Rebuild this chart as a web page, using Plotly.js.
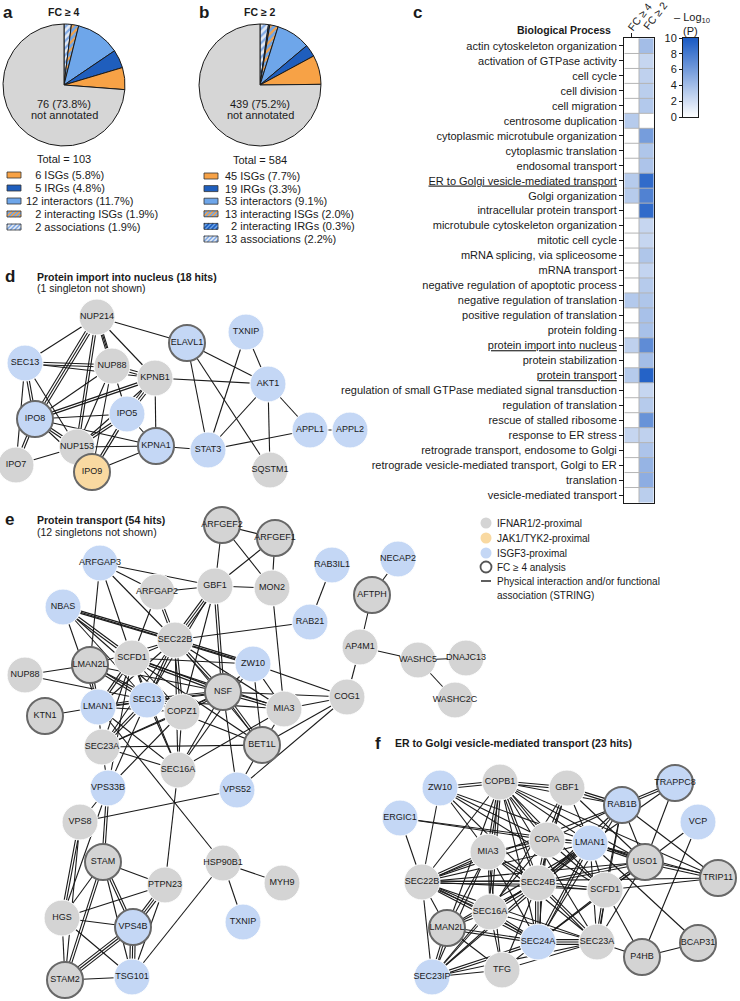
<!DOCTYPE html>
<html><head><meta charset="utf-8">
<script src="https://cdn.plot.ly/plotly-3.0.1.min.js"></script>
<style>html,body{margin:0;padding:0;background:#fff}#chart{width:740px;height:1001px}</style>
</head><body><div id="chart"></div>
<script>
// ---------------- DATA ----------------
const pieALabels = ['associations','interacting ISGs','interactors','IRGs','ISGs','not annotated'];
const pieAValues = [2, 2, 12, 5, 6, 76];
const pieBLabels = ['associations','interacting IRGs','interacting ISGs','interactors','IRGs','ISGs','not annotated'];
const pieBValues = [13, 2, 13, 53, 19, 45, 439];
const pieATitle = 'FC ≥ 4', pieBTitle = 'FC ≥ 2';
const pieACenter = ['76 (73.8%)', 'not annotated'];
const pieBCenter = ['439 (75.2%)', 'not annotated'];
const pieATotal = 'Total = 103', pieBTotal = 'Total = 584';
const legendACats = ['ISGs','IRGs','interactors','interacting ISGs','associations'];
const legendATexts = ['\u00a0\u00a0\u00a06 ISGs (5.8%)','\u00a0\u00a0\u00a05 IRGs (4.8%)','12 interactors (11.7%)','\u00a0\u00a0\u00a02 interacting ISGs (1.9%)','\u00a0\u00a0\u00a02 associations (1.9%)'];
const legendBCats = ['ISGs','IRGs','interactors','interacting ISGs','interacting IRGs','associations'];
const legendBTexts = ['45 ISGs (7.7%)','19 IRGs (3.3%)','53 interactors (9.1%)','13 interacting ISGs (2.0%)','\u00a0\u00a02 interacting IRGs (0.3%)','13 associations (2.2%)'];

const processes = ['actin cytoskeleton organization','activation of GTPase activity','cell cycle','cell division','cell migration','centrosome duplication','cytoplasmic microtubule organization','cytoplasmic translation','endosomal transport','ER to Golgi vesicle-mediated transport','Golgi organization','intracellular protein transport','microtubule cytoskeleton organization','mitotic cell cycle','mRNA splicing, via spliceosome','mRNA transport','negative regulation of apoptotic process','negative regulation of translation','positive regulation of translation','protein folding','protein import into nucleus','protein stabilization','protein transport','regulation of small GTPase mediated signal transduction','regulation of translation','rescue of stalled ribosome','response to ER stress','retrograde transport, endosome to Golgi','retrograde vesicle-mediated transport, Golgi to ER','translation','vesicle-mediated transport'];
const underlined = ['ER to Golgi vesicle-mediated transport','protein import into nucleus','protein transport'];
const heatCols = ['FC ≥ 4','FC ≥ 2'];
const fc4Vals = [0,0,0,0,0,3.2,0,0,0,3.2,3.2,0,0,0,0,0,0,3.3,0,0,2.8,0,3.2,0,0,0,2.5,0,0,0,0];
const fc2Vals = [4,2.5,2.8,3,3.3,0,6,3.5,3.6,9,7.6,9,2.5,2.5,3.5,2.6,3.2,3.5,3.8,3.8,7,4,9.5,2.5,3.2,6.6,2.8,3.6,4.6,5,3];
const scaleTicks = [0,2,4,6,8,10];
const scaleTitle = ['– Log<sub>10</sub>','(P)'];
const heatTitle = 'Biological Process';

const dTitle = ['Protein import into nucleus (18 hits)','(1 singleton not shown)'];
const dNames = ['NUP214','ELAVL1','TXNIP','SEC13','NUP88','KPNB1','AKT1','IPO8','IPO5','KPNA1','STAT3','APPL1','APPL2','NUP153','IPO7','IPO9','SQSTM1'];
const dX = [97,187,246,25,112,155,268,35,127,156,208,310,350,77,16,92,270];
const dY = [317,343,332,363,366,378,384,419,414,446,450,430,430,447,465,472,470];
const dGroup = ['g','b','b','b','g','g','b','b','b','b','b','b','b','g','g','y','g'];
const dFC4 = [0,1,0,0,0,0,0,1,0,1,0,0,0,0,0,1,0];
const dEdges = ['NUP214|ELAVL1','NUP214|SEC13','NUP214|NUP88|2','NUP214|KPNB1','NUP214|IPO8|3','NUP214|NUP153|2','NUP214|IPO5','SEC13|NUP88|2','SEC13|KPNB1','SEC13|IPO8|2','SEC13|NUP153','SEC13|IPO7','NUP88|KPNB1|2','NUP88|NUP153','NUP88|IPO8','NUP88|IPO9','KPNB1|AKT1','KPNB1|IPO5|3','KPNB1|KPNA1','KPNB1|IPO8|2','KPNB1|NUP153','ELAVL1|AKT1','ELAVL1|STAT3','ELAVL1|SQSTM1','TXNIP|AKT1','TXNIP|STAT3','AKT1|STAT3','AKT1|APPL1','AKT1|SQSTM1','STAT3|APPL1','STAT3|KPNA1','IPO8|IPO5','IPO8|KPNA1','IPO8|NUP153|2','IPO8|IPO7|2','IPO8|IPO9','IPO5|NUP153|2','IPO5|KPNA1','IPO5|IPO9|2','NUP153|KPNA1','NUP153|IPO9|2','NUP153|IPO7','KPNA1|IPO9','APPL1|APPL2'];

const eTitle = ['Protein transport (54 hits)','(12 singletons not shown)'];
const eNames = ['ARFGEF2','ARFGEF1','ARFGAP3','ARFGAP2','GBF1','MON2','NBAS','SEC22B','SCFD1','ZW10','NUP88','LMAN2L','NSF','RAB3IL1','NECAP2','AFTPH','RAB21','AP4M1','WASHC5','DNAJC13','WASHC2C','MIA3','COG1','BET1L','KTN1','LMAN1','SEC13','COPZ1','SEC23A','SEC16A','VPS33B','VPS52','VPS8','STAM','PTPN23','HSP90B1','MYH9','HGS','VPS4B','TXNIP','STAM2','TSG101'];
const eX = [222,275,100,157,215,272,63,175,132,253,25,90,223,332,398,372,310,360,418,466,455,284,347,262,45,98,147,182,102,178,108,237,80,103,165,223,282,62,133,243,65,132];
const eY = [525,538,563,592,586,588,607,640,658,664,675,665,692,565,559,595,622,647,660,658,700,709,697,745,716,707,700,712,747,770,788,790,822,862,885,863,883,918,927,922,980,977];
const eGroup = ['g','g','b','g','g','g','b','g','g','b','g','g','g','b','b','g','b','g','g','g','g','g','g','g','g','b','b','g','g','g','b','b','g','g','g','g','g','g','b','b','g','b'];
const eFC4 = [1,1,0,0,0,0,0,0,0,0,0,1,1,0,0,1,0,0,0,0,0,0,0,1,1,0,0,0,0,0,0,0,0,1,0,0,0,0,1,0,1,0];
const eEdges = ['ARFGEF2|ARFGEF1','ARFGEF2|GBF1','ARFGEF2|MON2','ARFGEF1|GBF1','ARFGEF1|MON2','GBF1|MON2','ARFGAP3|GBF1','ARFGAP3|ARFGAP2','ARFGAP3|SEC22B','ARFGAP3|SCFD1','ARFGAP3|LMAN2L','ARFGAP2|GBF1','ARFGAP2|SEC22B|2','ARFGAP2|SCFD1','GBF1|SEC22B|3','GBF1|NSF|2','GBF1|COPZ1','GBF1|SEC13','MON2|MIA3','NBAS|SEC22B|2','NBAS|SCFD1|2','NBAS|ZW10','NBAS|SEC13','NBAS|LMAN1','NBAS|COPZ1','SEC22B|RAB21','SEC22B|ZW10|2','SEC22B|SCFD1','SEC22B|NSF|2','SEC22B|LMAN2L','SEC22B|LMAN1','SEC22B|SEC13|2','SEC22B|COPZ1|2','SEC22B|BET1L','SEC22B|SEC16A','SEC22B|SEC23A','SEC22B|MIA3','SCFD1|NSF|2','SCFD1|ZW10','SCFD1|LMAN1|2','SCFD1|SEC13','SCFD1|COPZ1','SCFD1|BET1L','SCFD1|SEC16A','SCFD1|SEC23A','SCFD1|MIA3','SCFD1|VPS33B','NUP88|LMAN2L','NUP88|SEC13','LMAN2L|SEC13|2','LMAN2L|LMAN1|2','LMAN2L|NSF','LMAN2L|COPZ1','ZW10|COG1','ZW10|NSF','ZW10|MIA3','ZW10|BET1L','ZW10|SEC16A','NSF|MIA3|2','NSF|COG1','NSF|BET1L|2','NSF|SEC13|2','NSF|COPZ1|2','NSF|SEC16A','NSF|VPS52','NSF|SEC23A','NSF|LMAN1','MIA3|COG1','MIA3|BET1L','MIA3|SEC13','MIA3|SEC16A','BET1L|COG1','BET1L|SEC23A','BET1L|SEC13','BET1L|VPS52','COG1|AP4M1','COG1|VPS52','RAB3IL1|RAB21','NECAP2|AFTPH','AFTPH|AP4M1','AP4M1|WASHC5','WASHC5|DNAJC13','WASHC5|WASHC2C','KTN1|LMAN1','LMAN1|SEC13|2','LMAN1|SEC23A','LMAN1|SEC16A','LMAN1|COPZ1','LMAN1|HSP90B1','SEC13|SEC23A|2','SEC13|SEC16A','SEC13|COPZ1','SEC13|VPS33B','COPZ1|SEC16A','COPZ1|SEC23A','COPZ1|VPS33B','SEC23A|SEC16A','SEC23A|VPS33B','SEC16A|PTPN23','VPS33B|VPS8','VPS33B|STAM|2','VPS33B|HGS','VPS52|VPS8','VPS8|HGS|2','VPS8|STAM2','STAM|PTPN23','STAM|HGS','STAM|VPS4B|2','STAM|STAM2|2','STAM|TSG101','PTPN23|HGS','PTPN23|VPS4B|3','PTPN23|TSG101','HSP90B1|MYH9','HSP90B1|TXNIP','HSP90B1|TSG101','HGS|VPS4B','HGS|STAM2','HGS|TSG101','VPS4B|STAM2|3','VPS4B|TSG101|3','STAM2|TSG101'];

const fTitle = 'ER to Golgi vesicle-mediated transport (23 hits)';
const fNames = ['ZW10','COPB1','GBF1','TRAPPC8','RAB1B','ERGIC1','VCP','COPA','LMAN1','MIA3','USO1','TRIP11','SEC22B','SEC24B','SCFD1','SEC16A','LMAN2L','SEC24A','SEC23A','P4HB','BCAP31','TFG','SEC23IP'];
const fX = [440,500,567,675,622,400,698,547,590,488,645,718,422,538,605,490,447,538,597,642,698,502,432];
const fY = [788,782,788,783,805,818,822,840,843,852,862,878,882,883,890,912,928,942,942,957,943,970,977];
const fGroup = ['b','g','g','b','b','b','b','g','b','g','g','g','g','g','g','g','g','b','g','g','g','g','b'];
const fFC4 = [0,0,0,1,1,0,0,0,0,0,1,1,0,0,0,0,1,0,0,1,1,0,0];
const fEdges = ['ZW10|COPB1|2','ZW10|SEC22B','ZW10|MIA3','ZW10|COPA','ZW10|SEC24B','ZW10|USO1','ZW10|SCFD1','COPB1|GBF1|2','COPB1|RAB1B','COPB1|MIA3|2','COPB1|COPA|2','COPB1|LMAN1','COPB1|SEC22B','COPB1|SEC24B|2','COPB1|SEC16A|2','COPB1|SEC24A','COPB1|SEC23A','COPB1|SCFD1','COPB1|USO1','COPB1|TRIP11','COPB1|LMAN2L','GBF1|RAB1B|2','GBF1|COPA|2','GBF1|LMAN1','GBF1|SEC24B','GBF1|USO1','GBF1|SEC16A','TRAPPC8|RAB1B|2','TRAPPC8|USO1','TRAPPC8|LMAN1','RAB1B|USO1','RAB1B|LMAN1','RAB1B|COPA','RAB1B|SEC24B','RAB1B|SCFD1','RAB1B|SEC23A','RAB1B|TRIP11','RAB1B|SEC22B','RAB1B|SEC24A','ERGIC1|SEC22B','ERGIC1|LMAN1','ERGIC1|COPA','VCP|USO1','VCP|P4HB','COPA|LMAN1|2','COPA|SEC22B','COPA|SEC24B|2','COPA|MIA3','COPA|SEC24A','COPA|SCFD1','COPA|SEC23IP','LMAN1|SEC22B','LMAN1|SEC24B|3','LMAN1|SEC24A|2','LMAN1|SEC23A','LMAN1|USO1|2','LMAN1|SCFD1','LMAN1|LMAN2L','LMAN1|SEC16A','LMAN1|TRIP11','LMAN1|BCAP31','LMAN1|SEC23IP','MIA3|SEC22B|2','MIA3|SEC24B|2','MIA3|SEC16A','MIA3|SEC24A','MIA3|SEC23A','MIA3|TFG','MIA3|SEC23IP','MIA3|LMAN2L','USO1|SEC22B','USO1|SEC24B|2','USO1|SCFD1|2','USO1|TRIP11|2','USO1|SEC23A','USO1|SEC24A','TRIP11|SEC22B','TRIP11|SCFD1','SEC22B|SEC24B|2','SEC22B|SCFD1','SEC22B|SEC16A|2','SEC22B|LMAN2L','SEC22B|SEC24A|2','SEC22B|SEC23A','SEC22B|SEC23IP','SEC24B|SCFD1|2','SEC24B|SEC16A|2','SEC24B|SEC24A|3','SEC24B|SEC23A|2','SEC24B|LMAN2L','SEC24B|TFG','SEC24B|SEC23IP','SCFD1|SEC24A','SCFD1|SEC23A|2','SCFD1|P4HB','SEC16A|LMAN2L','SEC16A|SEC24A|2','SEC16A|SEC23A','SEC16A|TFG','SEC16A|SEC23IP','LMAN2L|SEC24A|2','LMAN2L|SEC23IP|2','LMAN2L|TFG','SEC24A|SEC23A|3','SEC24A|TFG','SEC24A|SEC23IP|2','SEC23A|P4HB','SEC23A|SEC23IP','SEC23A|TFG','P4HB|BCAP31','TFG|SEC23IP'];

const netLegend = ['IFNAR1/2-proximal','JAK1/TYK2-proximal','ISGF3-proximal','FC ≥ 4 analysis','Physical interaction and/or functional','association (STRING)'];

// ---------------- STYLE ----------------
const W = 740, H = 1001;
const FONT = '"Liberation Sans", Arial, Helvetica, sans-serif';
const INK = '#1a1a1a';
const catStyle = {
  'ISGs': {fill:'#f7a246'},
  'IRGs': {fill:'#1f5ebd'},
  'interactors': {fill:'#6ea6ea'},
  'interacting ISGs': {fill:'#6ea6ea', stripe:'#f7a246'},
  'interacting IRGs': {fill:'#6ea6ea', stripe:'#1f5ebd'},
  'associations': {fill:'#e3e9f2', stripe:'#7fa9e6'},
  'not annotated': {fill:'#d6d6d6'}
};
const NODE = {g:'#d4d4d4', b:'#c4d7f5', y:'#f9d9a1'};
const HEAT_X = [624, 654];          // heat map box, px
const HEAT_Y = [38, 503];
const SCALE_X = [683, 698];         // colour scale box, px
const SCALE_Y = [38, 117];

const traces = [], shapes = [], annotations = [];
function txt(x, y, text, o) {
  o = o || {};
  annotations.push({xref:'x', yref:'y', x:x, y:y, text:text, showarrow:false,
    xanchor:o.xa || 'center', yanchor:o.ya || 'middle', textangle:o.angle || 0,
    font:{family:FONT, size:o.size || 11, color:o.color || INK}});
}
function swatch(x0, y0, w, h, cat) {
  const s = catStyle[cat];
  const x1 = x0 + w, y1 = y0 + h;
  shapes.push({type:'rect', xref:'x', yref:'y', x0:x0, y0:y0, x1:x1, y1:y1, fillcolor:s.fill, line:{width:0}, layer:'above'});
  if (s.stripe) {
    let path = '';
    for (let c = x0 + y0 + 1; c <= x1 + y1; c += 4.2) {
      const ya = Math.max(y0, c - x1), yb = Math.min(y1, c - x0);
      if (yb > ya) path += 'M' + (c - ya) + ',' + ya + 'L' + (c - yb) + ',' + yb;
    }
    shapes.push({type:'path', xref:'x', yref:'y', path:path, line:{color:s.stripe, width:1.5}, layer:'above'});
  }
  shapes.push({type:'rect', xref:'x', yref:'y', x0:x0, y0:y0, x1:x1, y1:y1, line:{color:'#333', width:0.8}, layer:'above'});
}
function pieTrace(labels, values, cx, cy, r) {
  return {type:'pie', labels:labels, values:values, sort:false, direction:'clockwise', rotation:0,
    textinfo:'none', hoverinfo:'skip', showlegend:false,
    domain:{x:[(cx - r) / W, (cx + r) / W], y:[1 - (cy + r) / H, 1 - (cy - r) / H]},
    marker:{colors:labels.map(l => catStyle[l].fill), line:{color:INK, width:1},
      pattern:{shape:labels.map(l => catStyle[l].stripe ? '/' : ''),
        fgcolor:labels.map(l => catStyle[l].stripe || catStyle[l].fill),
        bgcolor:labels.map(l => catStyle[l].fill), size:5, solidity:0.45, fillmode:'replace'}}};
}
function network(names, xs, ys, groups, fc4, edges) {
  const idx = {}; names.forEach((n, i) => idx[n] = i);
  const ex = [], ey = [];
  edges.forEach(e => {
    const p = e.split('|'); const i = idx[p[0]], j = idx[p[1]];
    if (i === undefined || j === undefined) return;
    const n = +(p[2] || 1);
    const dx = xs[j] - xs[i], dy = ys[j] - ys[i]; const L = Math.hypot(dx, dy) || 1;
    const px = -dy / L, py = dx / L;
    for (let k = 0; k < n; k++) {
      const off = (k - (n - 1) / 2) * 2.4;
      ex.push(xs[i] + px * off, xs[j] + px * off, null);
      ey.push(ys[i] + py * off, ys[j] + py * off, null);
    }
  });
  traces.push({type:'scatter', mode:'lines', x:ex, y:ey, xaxis:'x', yaxis:'y', line:{color:INK, width:1.1}, hoverinfo:'skip', showlegend:false});
  traces.push({type:'scatter', mode:'markers+text', x:xs, y:ys, xaxis:'x', yaxis:'y', text:names, textposition:'middle center',
    textfont:{family:FONT, size:9, color:INK}, cliponaxis:false, hoverinfo:'skip', showlegend:false,
    marker:{size:36, opacity:1, color:groups.map(g => NODE[g]),
      line:{color:fc4.map(f => f ? '#686868' : '#ffffff'), width:fc4.map(f => f ? 2 : 1)}}});
}

// ---------------- PANEL a / b ----------------
traces.push(pieTrace(pieALabels, pieAValues, 64, 85, 61));
traces.push(pieTrace(pieBLabels, pieBValues, 260, 85, 61));
txt(8, 12, '<b>a</b>', {size:17});
txt(204, 12, '<b>b</b>', {size:17});
txt(417, 12, '<b>c</b>', {size:17});
txt(64, 12, '<b>' + pieATitle + '</b>', {size:10.5});
txt(260, 12, '<b>' + pieBTitle + '</b>', {size:10.5});
txt(64, 104, pieACenter[0]); txt(64, 115, pieACenter[1]);
txt(260, 104, pieBCenter[0]); txt(260, 115, pieBCenter[1]);
txt(64, 159, pieATotal); txt(260, 160, pieBTotal);
legendACats.forEach((c, i) => { const y = 175 + i * 13; swatch(7, y - 3, 14, 6, c); txt(24, y, legendATexts[i], {xa:'left'}); });
legendBCats.forEach((c, i) => { const y = 176 + i * 12.6; swatch(204, y - 3, 14, 6, c); txt(223, y, legendBTexts[i], {xa:'left'}); });

// ---------------- PANEL c ----------------
const yLabels = processes.map(p => underlined.indexOf(p) >= 0 ? '<u>' + p + '</u>' : p);
traces.push({type:'heatmap', x:heatCols, y:yLabels, z:processes.map((p, i) => [fc4Vals[i], fc2Vals[i]]),
  zmin:0, zmax:10, colorscale:[[0,'#ffffff'],[1,'#1a5bc4']], showscale:false, xaxis:'x2', yaxis:'y2', hoverinfo:'skip'});
traces.push({type:'heatmap', x:[0, 1], y:scaleTicks, z:scaleTicks.map(v => [v, v]), zsmooth:'best',
  zmin:0, zmax:10, colorscale:[[0,'#ffffff'],[1,'#1a5bc4']], showscale:false, xaxis:'x3', yaxis:'y3', hoverinfo:'skip'});
for (let i = 0; i < processes.length - 1; i++) {
  shapes.push({type:'line', xref:'x2', yref:'y2', x0:-0.5, x1:1.5, y0:i + 0.5, y1:i + 0.5, line:{color:'#b4b4b4', width:1}, layer:'above'});
}
shapes.push({type:'line', xref:'x2', yref:'y2', x0:0.5, x1:0.5, y0:-0.5, y1:processes.length - 0.5, line:{color:'#b4b4b4', width:1}, layer:'above'});
// rotated column labels above each column
const colW = (HEAT_X[1] - HEAT_X[0]) / heatCols.length;
heatCols.forEach((c, i) => {
  txt(HEAT_X[0] + colW * (i + 0.5) + 8, 17 - i * 1.5, c, {angle:-52, size:10.5});
});
txt(613, 30, '<b>' + heatTitle + '</b>', {xa:'right', size:10.5});
txt(692, 18, scaleTitle[0], {size:11});
txt(690, 31, scaleTitle[1], {size:11});

// ---------------- NETWORKS ----------------
network(dNames, dX, dY, dGroup, dFC4, dEdges);
network(eNames, eX, eY, eGroup, eFC4, eEdges);
network(fNames, fX, fY, fGroup, fFC4, fEdges);
txt(10, 276, '<b>d</b>', {size:17});
txt(35, 277, '<b>' + dTitle[0] + '</b>', {xa:'left', size:10.5});
txt(35, 288, dTitle[1], {xa:'left', size:10.5});
txt(9, 519, '<b>e</b>', {size:17});
txt(35, 520, '<b>' + eTitle[0] + '</b>', {xa:'left', size:10.5});
txt(35, 532, eTitle[1], {xa:'left', size:10.5});
txt(378, 743, '<b>f</b>', {size:17});
txt(393, 743, '<b>' + fTitle + '</b>', {xa:'left', size:10.5});

// network legend
const legY = [523, 538, 553, 567];
traces.push({type:'scatter', mode:'markers', x:[486, 486, 486, 486], y:legY, xaxis:'x', yaxis:'y', hoverinfo:'skip', showlegend:false,
  marker:{size:11, color:[NODE.g, NODE.y, NODE.b, 'rgba(0,0,0,0)'], line:{color:['#fff','#fff','#fff','#555'], width:[0,0,0,1.8]}}});
shapes.push({type:'line', xref:'x', yref:'y', x0:481, x1:491, y0:581, y1:581, line:{color:INK, width:1.4}});
[523, 538, 553, 567, 581, 595].forEach((y, i) => txt(495, y, netLegend[i], {xa:'left', size:10}));

// ---------------- LAYOUT ----------------
const tf = {family:FONT, size:11, color:INK};
const layout = {
  width:W, height:H, margin:{l:0, r:0, t:0, b:0}, paper_bgcolor:'#fff', plot_bgcolor:'rgba(0,0,0,0)',
  hovermode:false, showlegend:false, font:{family:FONT, color:INK},
  xaxis:{domain:[0, 1], range:[0, W], visible:false, fixedrange:true},
  yaxis:{domain:[0, 1], range:[H, 0], visible:false, fixedrange:true},
  xaxis2:{domain:[HEAT_X[0] / W, HEAT_X[1] / W], anchor:'y2', side:'top', showticklabels:false, ticks:'outside', ticklen:4, tickcolor:INK,
    showline:true, linecolor:INK, linewidth:1, mirror:true, showgrid:false, zeroline:false, fixedrange:true},
  yaxis2:{domain:[1 - HEAT_Y[1] / H, 1 - HEAT_Y[0] / H], anchor:'x2', autorange:'reversed', ticks:'outside', ticklen:4, tickcolor:INK,
    tickfont:tf, showline:true, linecolor:INK, linewidth:1, mirror:true, showgrid:false, zeroline:false, fixedrange:true},
  xaxis3:{domain:[SCALE_X[0] / W, SCALE_X[1] / W], anchor:'y3', range:[-0.5, 1.5], showticklabels:false, ticks:'', showline:true, linecolor:INK,
    linewidth:1, mirror:true, showgrid:false, zeroline:false, fixedrange:true},
  yaxis3:{domain:[1 - SCALE_Y[1] / H, 1 - SCALE_Y[0] / H], anchor:'x3', range:[0, 10], tickvals:scaleTicks, ticks:'outside', ticklen:3, tickcolor:INK,
    tickfont:tf, showticklabels:true, side:'left', showline:true, linecolor:INK, linewidth:1, mirror:true, showgrid:false, zeroline:false, fixedrange:true},
  shapes:shapes, annotations:annotations
};
Plotly.newPlot('chart', traces, layout, {staticPlot:true, displayModeBar:false});
</script></body></html>
